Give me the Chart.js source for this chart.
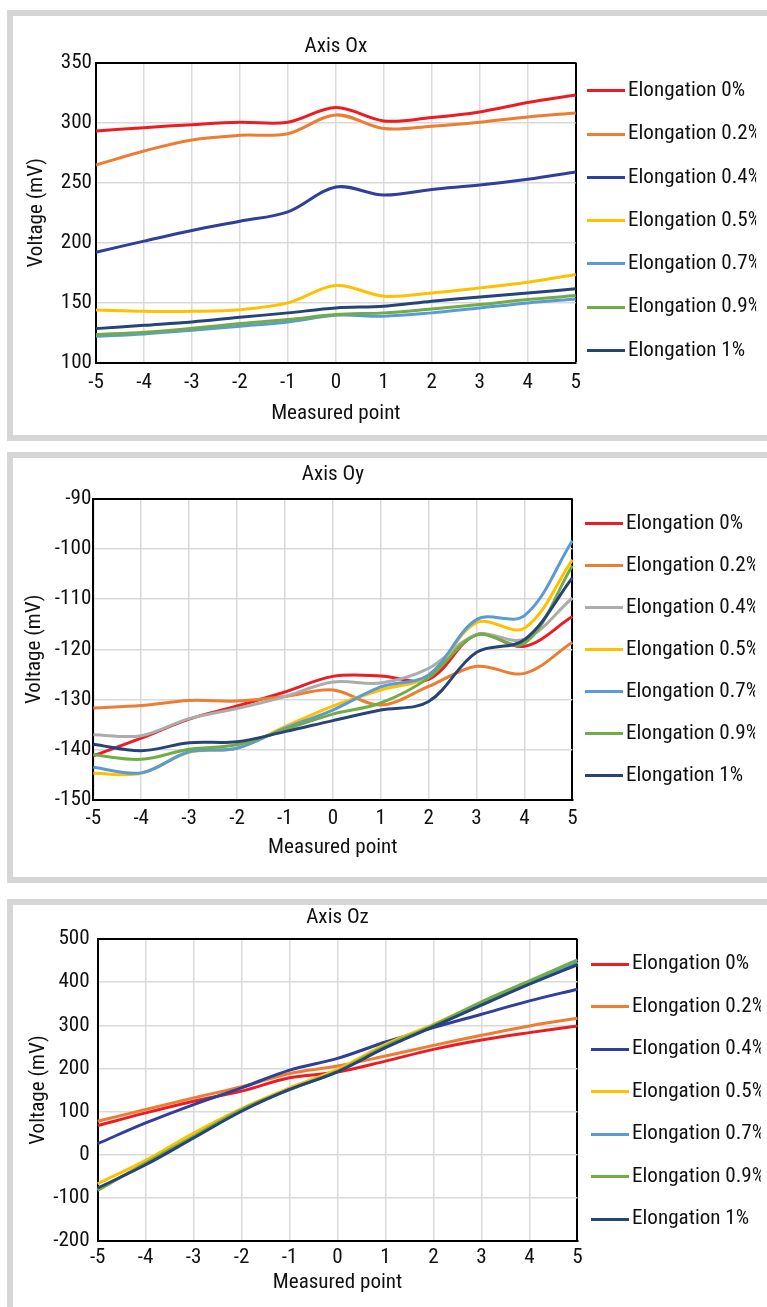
<!DOCTYPE html>
<html>
<head>
<meta charset="utf-8">
<script src="https://cdn.jsdelivr.net/npm/chart.js@4.4.1/dist/chart.umd.min.js"></script>
<style>
html,body{margin:0;padding:0;background:#fff;overflow:hidden;width:767px;height:1307px;}
.panel{position:absolute;left:7px;width:830px;border:6px solid #d6d6d6;box-sizing:border-box;}
.wrap{position:absolute;left:0;}
canvas{display:block;}
</style>
</head>
<body>
<div class="panel" style="top:10px;height:431px"></div>
<div class="panel" style="top:452px;height:431px"></div>
<div class="panel" style="top:899px;height:460px"></div>
<div class="wrap" style="top:10px"><canvas id="c1" width="840" height="431"></canvas></div>
<div class="wrap" style="top:452px"><canvas id="c2" width="840" height="431"></canvas></div>
<div class="wrap" style="top:899px"><canvas id="c3" width="840" height="408"></canvas></div>
<script>
// ---------- data ----------
const categories = ['-5','-4','-3','-2','-1','0','1','2','3','4','5'];
const seriesNames = ['Elongation 0%','Elongation 0.2%','Elongation 0.4%','Elongation 0.5%','Elongation 0.7%','Elongation 0.9%','Elongation 1%'];
const chartTitles = ['Axis Ox','Axis Oy','Axis Oz'];
const xAxisTitle = 'Measured point';
const yAxisTitle = 'Voltage (mV)';

// Axis Ox
const ox_e0  = [293, 295.8, 298.3, 300.3, 300.3, 312.5, 301.4, 304.2, 308.9, 316.7, 323];
const ox_e02 = [264.7, 276.4, 285.6, 289.4, 290.8, 306.4, 295, 297, 300.3, 304.7, 308];
const ox_e04 = [192.2, 201.4, 210.3, 218, 225.8, 246.4, 239.7, 244.4, 248, 252.8, 258.9];
const ox_e05 = [144, 143, 143, 144.4, 150, 164.4, 155.6, 158.3, 162.5, 167.2, 173.6];
const ox_e07 = [122.2, 124.2, 127.2, 130.6, 134.2, 139.7, 138.9, 141.7, 145.8, 150, 153.3];
const ox_e09 = [123.6, 125.6, 128.9, 132.8, 136.1, 140.3, 141.7, 145, 148.6, 152.8, 156.1];
const ox_e1  = [128.6, 131.4, 134.2, 138, 141.7, 145.8, 147.2, 151.4, 155, 158.3, 161.7];

// Axis Oy
const oy_e0  = [-141.2, -137.7, -133.9, -131.3, -128.5, -125.4, -125.3, -126, -117.1, -119.4, -113.5];
const oy_e02 = [-131.7, -131.2, -130.2, -130.3, -129.4, -128.1, -131.1, -127.4, -123.4, -124.8, -118.6];
const oy_e04 = [-137, -137.2, -133.8, -131.8, -129.4, -126.5, -126.7, -123.8, -117.1, -118, -109.8];
const oy_e05 = [-144.7, -144.7, -140.5, -139.7, -135.4, -131.3, -128.1, -125.4, -114.7, -115.8, -102.2];
const oy_e07 = [-143.5, -144.6, -140.4, -139.7, -135.7, -132.1, -127.5, -125.1, -114.1, -113.3, -98.4];
const oy_e09 = [-141, -141.9, -139.9, -139, -136, -132.9, -130.7, -125.7, -117.2, -118.8, -103.4];
const oy_e1  = [-138.9, -140.2, -138.6, -138.4, -136.4, -134.2, -132.1, -130.4, -120.6, -118.1, -105.8];

// Axis Oz
const oz_e0  = [67.4, 96.9, 124, 147.3, 178.3, 191.5, 217, 244.2, 265.9, 283, 298.4];
const oz_e02 = [77.5, 104.7, 131.8, 157.4, 188.4, 205.4, 228.7, 253.5, 276.7, 298.4, 316.3];
const oz_e04 = [25.6, 73.6, 116.3, 155, 196.1, 223.3, 261.2, 294.6, 325.6, 356.6, 383.7];
const oz_e05 = [-67.4, -13.2, 50.4, 107, 155, 197.7, 255.8, 302.3, 352.7, 399.2, 445.7];
const oz_e07 = [-80, -21, 40.5, 102.5, 151, 193, 250, 298.5, 350.5, 399, 446];
const oz_e09 = [-83, -19.4, 42.6, 104.7, 151.2, 193.8, 252, 300, 354.3, 403, 451.9];
const oz_e1  = [-77.5, -23.3, 38.8, 100.8, 151.2, 192.2, 248, 296.9, 346.5, 395.3, 440.3];

// y axis ranges
const oxRange = {min: 100, max: 350, step: 50};
const oyRange = {min: -150, max: -90, step: 10};
const ozRange = {min: -200, max: 500, step: 100};

const colorsA = ['#ed1c24','#ed7d31','#2f3f9a','#ffc000','#5b9bd5','#70ad47','#264478'];
const colorsB = ['#ed1c24','#ed7d31','#acacac','#ffc000','#5b9bd5','#70ad47','#264478'];

// ---------- font choice: pick an installed condensed face ----------
const BASE_FS = 21.5;
const TARGET_W = 131; // width of "Elongation 0.2%" in the reference
const fontCandidates = [
  ["'Liberation Sans Narrow'", ''],
  ["'Arial Narrow'", ''],
  ["'DejaVu Sans Condensed'", ''],
  ["'Roboto Condensed'", ''],
  ["'Open Sans'", 'condensed'],
  ["'Noto Sans'", 'condensed'],
  ["'Noto Sans'", 'semi-condensed'],
  ["'DejaVu Sans'", 'condensed'],
  ["'DejaVu Sans'", 'semi-condensed'],
  ["Roboto", 'condensed'],
  ["'Liberation Sans'", '']
];
const mctx = document.createElement('canvas').getContext('2d');
function measure(fam, st, size) {
  mctx.font = '10px serif';
  mctx.font = (st ? st + ' ' : '') + size + 'px ' + fam;
  return mctx.measureText('Elongation 0.2%').width;
}
let best = null;
for (const [fam, st] of fontCandidates) {
  const w = measure(fam, st, BASE_FS);
  const score = Math.abs(w - TARGET_W);
  if (!best || score < best.score) best = {fam, st, w, score};
}
const FAMILY = best.fam + ",'Liberation Sans',sans-serif";
const WEIGHT = best.st ? 'normal ' + best.st : 'normal';
const FS = Math.max(17, Math.round(BASE_FS * Math.min(1, (TARGET_W + 2) / best.w) * 10) / 10);
const LH = FS * 1.2;
const TXT = '#111';
Chart.defaults.font.family = FAMILY;
Chart.defaults.font.size = FS;
Chart.defaults.font.weight = WEIGHT;
Chart.defaults.color = TXT;

// legend line sample (38 x 3) used as the legend point style
const LEG_LINE = 38;
function lineSample(color) {
  const c = document.createElement('canvas');
  c.width = LEG_LINE; c.height = 3;
  const g = c.getContext('2d');
  g.fillStyle = color; g.fillRect(0, 0, LEG_LINE, 3);
  return c;
}

// ---------- rendering ----------
function buildChart(id, seriesList, colors, range, title, L) {
  const canvas = document.getElementById(id);
  const pad = {left: 0, right: 0, top: 0, bottom: 0};
  const dl = (BASE_FS * 1.2 - LH) / 2;
  const lp = L.spacing - FS;                          // legend item gap
  const bw = 2 * (L.textStart - L.lineStart - LEG_LINE / 2 - FS / 2); // legend box width
  const itemX = L.lineStart - bw / 2 + LEG_LINE / 2;  // legend item left
  const yW = L.area.left + LH / 2 - L.yTitleX;        // y-axis box width
  const placer = {
    id: 'placer_' + id,
    afterLayout(chart) {
      const lg = chart.legend;
      if (!lg) return;
      const w = lg.right - lg.left;
      lg.left = itemX - lp;
      lg.right = lg.left + w;
      lg.top = L.firstCenter - FS / 2 - lp;
      lg.bottom = lg.top + 420;
    }
  };
  const datasets = seriesList.map((d, i) => ({
    label: seriesNames[i],
    data: d,
    borderColor: colors[i],
    backgroundColor: colors[i],
    borderWidth: 3,
    pointRadius: 0,
    pointHoverRadius: 0,
    pointStyle: lineSample(colors[i]),
    tension: 0.35,
    fill: false,
    order: seriesList.length - i
  }));
  const chart = new Chart(canvas, {
    type: 'line',
    data: {labels: categories, datasets},
    plugins: [placer],
    options: {
      responsive: false,
      animation: false,
      events: [],
      layout: {padding: pad},
      plugins: {
        tooltip: {enabled: false},
        title: {
          display: true, text: title, fullSize: false, color: TXT,
          font: {size: FS, weight: WEIGHT},
          padding: {top: 0, bottom: L.titlePadB + dl}
        },
        legend: {
          display: true, position: 'right', align: 'start',
          labels: {
            usePointStyle: true, pointStyleWidth: bw,
            padding: lp, color: TXT, font: {size: FS, weight: WEIGHT},
            sort: (a, b) => a.datasetIndex - b.datasetIndex
          }
        }
      },
      scales: {
        x: {
          type: 'category',
          offset: false,
          border: {display: true, color: '#000', width: 2},
          grid: {
            drawTicks: false,
            color: c => c.index === categories.length - 1 ? '#000' : '#d9d9d9',
            lineWidth: c => c.index === categories.length - 1 ? 2 : 1.5
          },
          ticks: {padding: L.xTickPad + dl, color: TXT, maxRotation: 0, autoSkip: false},
          title: {display: true, text: xAxisTitle, color: TXT, padding: {top: L.xTitlePadT + 2 * dl, bottom: 0}}
        },
        y: {
          min: range.min, max: range.max,
          afterFit: s => { s.width = yW; },
          border: {display: true, color: '#000', width: 2},
          grid: {
            drawTicks: false,
            color: c => (c.tick && c.tick.value === range.max) ? '#000' : '#d9d9d9',
            lineWidth: c => (c.tick && c.tick.value === range.max) ? 2 : 1.5
          },
          ticks: {stepSize: range.step, padding: L.yTickPad, color: TXT},
          title: {display: true, text: yAxisTitle, color: TXT, padding: {top: 0, bottom: 0}}
        }
      }
    }
  });
  // place the plot area at its target rectangle (canvas coordinates)
  for (let k = 0; k < 3; k++) {
    const a = chart.chartArea;
    pad.left += L.area.left - a.left;
    pad.right += a.right - L.area.right;
    pad.top += L.area.top - a.top;
    pad.bottom += a.bottom - L.area.bottom;
    chart.config.options.layout.padding = {left: pad.left, right: pad.right, top: pad.top, bottom: pad.bottom};
    chart.update('none');
  }
  return chart;
}

buildChart('c1', [ox_e0, ox_e02, ox_e04, ox_e05, ox_e07, ox_e09, ox_e1], colorsA, oxRange, chartTitles[0], {
  area: {left: 96, right: 575, top: 52.5, bottom: 353},
  firstCenter: 80.7, lineStart: 587, textStart: 628, spacing: 43.3,
  titlePadB: 3, yTickPad: 4, yTitleX: 37, xTickPad: 7, xTitlePadT: -2
});
buildChart('c2', [oy_e0, oy_e02, oy_e04, oy_e05, oy_e07, oy_e09, oy_e1], colorsB, oyRange, chartTitles[1], {
  area: {left: 93.3, right: 571.7, top: 46.5, bottom: 348},
  firstCenter: 71.3, lineStart: 585, textStart: 626, spacing: 42,
  titlePadB: 11, yTickPad: 2, yTitleX: 34.5, xTickPad: 6, xTitlePadT: -3
});
buildChart('c3', [oz_e0, oz_e02, oz_e04, oz_e05, oz_e07, oz_e09, oz_e1], colorsA, ozRange, chartTitles[2], {
  area: {left: 97.7, right: 576.7, top: 40, bottom: 342},
  firstCenter: 65, lineStart: 591, textStart: 632, spacing: 42.5,
  titlePadB: 8, yTickPad: 8, yTitleX: 39, xTickPad: 4, xTitlePadT: -5
});
</script>
</body>
</html>
